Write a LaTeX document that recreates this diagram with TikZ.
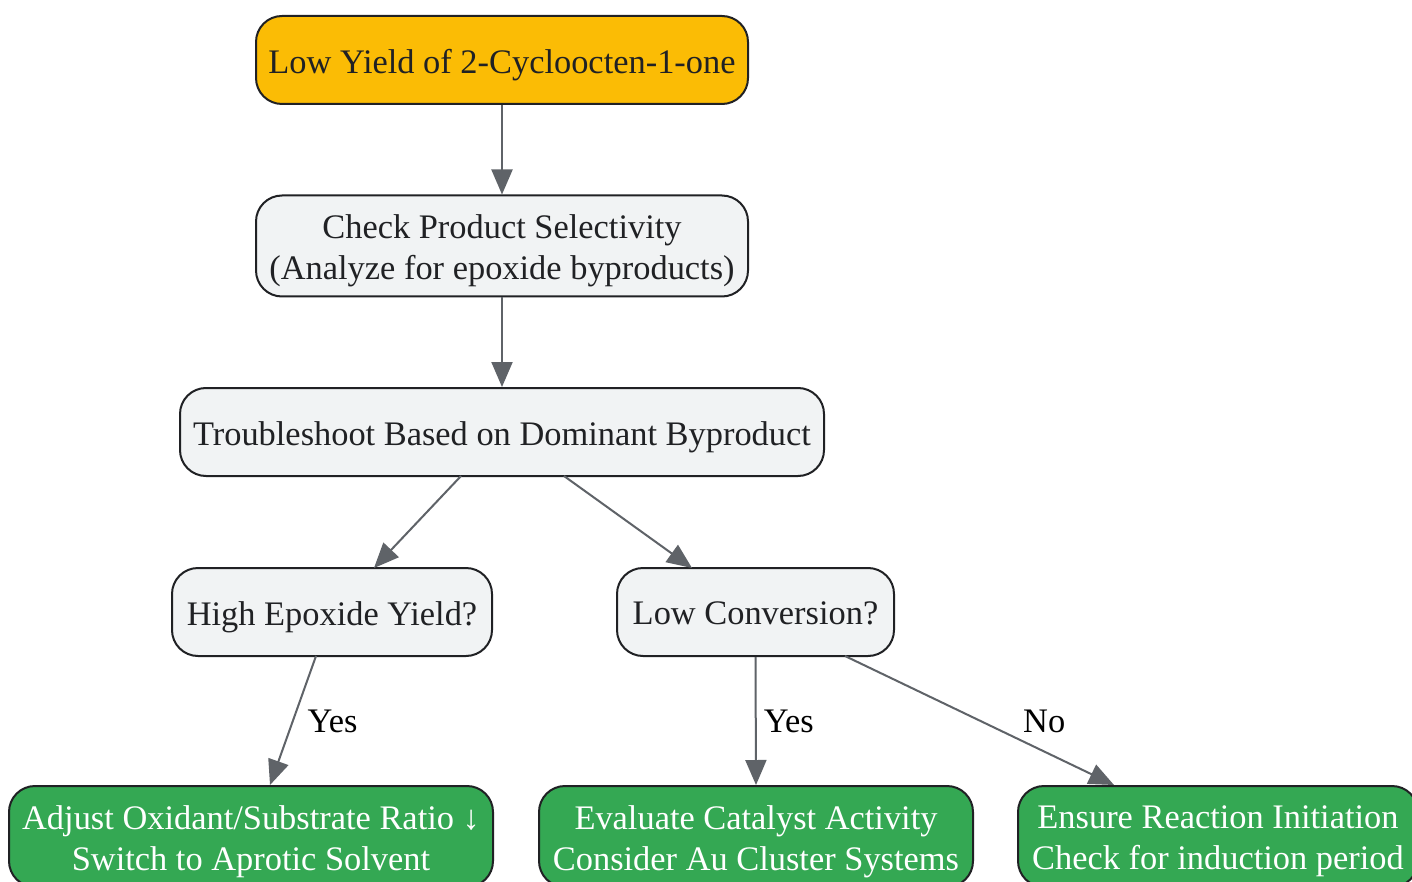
\documentclass[tikz,border=0pt]{standalone}
\usepackage{fontspec}
\setmainfont{Liberation Serif}
\usetikzlibrary{arrows.meta}
\definecolor{nodeborder}{HTML}{202124}
\definecolor{yellowfill}{HTML}{FBBC05}
\definecolor{grayfill}{HTML}{F1F3F4}
\definecolor{greenfill}{HTML}{34A853}
\definecolor{edgecol}{HTML}{5F6368}
\tikzset{
  box/.style={draw=nodeborder, line width=2pt, rounded corners=26pt, inner sep=0pt},
  txt/.style={align=center, inner sep=0pt, yshift=-5pt, text=nodeborder,
    font=\fontsize{34.4}{41}\selectfont},
  wtxt/.style={txt, text=white},
  startbox/.style={box, fill=yellowfill},
  graybox/.style={box, fill=grayfill},
  greenbox/.style={box, fill=greenfill},
  edge/.style={draw=edgecol, line width=2pt, -{Triangle[length=25pt,width=21pt]}},
  elabel/.style={font=\fontsize{34.4}{40}\selectfont, text=black, anchor=west, inner sep=0pt},
}
\begin{document}
\begin{tikzpicture}[x=1pt,y=-1pt]
\useasboundingbox (0,0) rectangle (1412,882);
\fill[white] (0,0) rectangle (1412,882);
\clip (0,0) rectangle (1412,882);
\node[startbox, minimum width=492pt, minimum height=88pt,
  label={[txt]center:Low Yield of 2-Cycloocten-1-one}] (start) at (502,60) {};
\node[graybox, minimum width=492pt, minimum height=101pt,
  label={[txt]center:Check Product Selectivity\\(Analyze for epoxide byproducts)}] (check) at (502,246) {};
\node[graybox, minimum width=644pt, minimum height=88pt,
  label={[txt]center:Troubleshoot Based on Dominant Byproduct}] (trouble) at (502,432) {};
\node[graybox, minimum width=320pt, minimum height=88pt,
  label={[txt]center:High Epoxide Yield?}] (epox) at (332,612) {};
\node[graybox, minimum width=277pt, minimum height=88pt,
  label={[txt, yshift=4pt]center:Low Conversion?}] (conv) at (755.5,612) {};
\node[greenbox, minimum width=484pt, minimum height=101pt,
  label={[wtxt]center:Adjust Oxidant/Substrate Ratio ↓\\Switch to Aprotic Solvent}] (adjust) at (251,836.5) {};
\node[greenbox, minimum width=434pt, minimum height=101pt,
  label={[wtxt]center:Evaluate Catalyst Activity\\Consider Au Cluster Systems}] (catal) at (756,836.5) {};
\node[greenbox, minimum width=400pt, minimum height=101pt,
  label={[wtxt]center:Ensure Reaction Initiation\\Check for induction period}] (init) at (1218,836.5) {};

\draw[edge] (start.south) -- (check.north);
\draw[edge] (check.south) -- (trouble.north);
\coordinate (t1) at (461,476);
\coordinate (t2) at (564,476);
\coordinate (e1) at (374,568);
\coordinate (c1) at (692,568);
\draw[edge] (t1) -- (e1);
\draw[edge] (t2) -- (c1);
\coordinate (e2) at (316,656);
\coordinate (a1) at (270,785);
\draw[edge] (e2) -- node[elabel, pos=0.51, xshift=14pt] {Yes} (a1);
\draw[edge] (conv.south) -- node[elabel, pos=0.5, xshift=7pt] {Yes} (catal.north);
\coordinate (c2) at (845,656);
\coordinate (i1) at (1114,785);
\draw[edge] (c2) -- node[elabel, pos=0.51, xshift=40pt] {No} (i1);
\end{tikzpicture}
\end{document}
